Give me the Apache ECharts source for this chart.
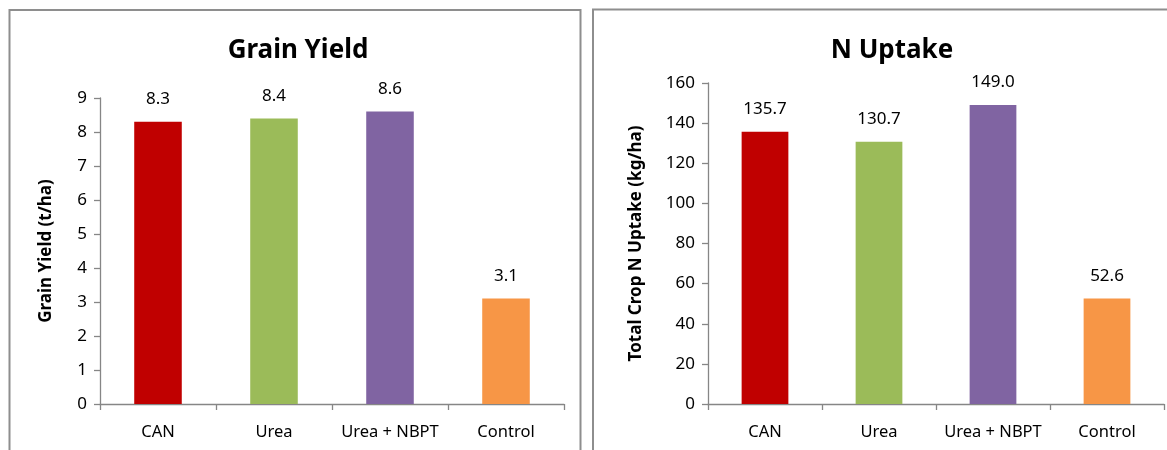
<!DOCTYPE html>
<html>
<head>
<meta charset="utf-8">
<script src="https://cdn.jsdelivr.net/npm/echarts@6/dist/echarts.min.js"></script>
<style>
  html, body { margin: 0; padding: 0; background: #ffffff; }
  #chart { width: 1167px; height: 450px; }
</style>
</head>
<body>
<div id="chart"></div>
<script>
// Treatments and measured results
const categories = ['CAN', 'Urea', 'Urea + NBPT', 'Control'];
const grainYield = [8.3, 8.4, 8.6, 3.1];        // t/ha
const nUptake = [135.7, 130.7, 149.0, 52.6];    // kg/ha
const barColors = ['#C00000', '#9BBB59', '#8064A2', '#F79646'];
const yieldTicks = { min: 0, max: 9, interval: 1 };
const uptakeTicks = { min: 0, max: 160, interval: 20 };

const FONT = 'Noto Sans';
const AXIS_GREY = '#868686';

function coloured(values) {
  return values.map((v, i) => ({ value: v, itemStyle: { color: barColors[i] } }));
}

function xAxisFor(gridIndex) {
  return {
    type: 'category', gridIndex, data: categories,
    axisLine: { lineStyle: { color: AXIS_GREY, width: 1.3 } },
    axisTick: { show: true, length: 6, lineStyle: { color: AXIS_GREY, width: 1.3 } },
    axisLabel: { color: '#000', fontFamily: FONT, fontSize: 16.5, margin: 20, interval: 0 }
  };
}

function yAxisFor(gridIndex, ticks, name, nameGap) {
  return {
    type: 'value', gridIndex, min: ticks.min, max: ticks.max, interval: ticks.interval,
    name, nameLocation: 'middle', nameRotate: 90, nameGap,
    nameTextStyle: { color: '#000', fontFamily: FONT, fontSize: 17, fontWeight: 'bold' },
    splitLine: { show: false },
    axisLine: { show: true, lineStyle: { color: AXIS_GREY, width: 1.3 } },
    axisTick: { show: true, length: 6, lineStyle: { color: AXIS_GREY, width: 1.3 } },
    axisLabel: { color: '#000', fontFamily: FONT, fontSize: 17, margin: 13 }
  };
}

function barSeries(idx, values) {
  return {
    type: 'bar', xAxisIndex: idx, yAxisIndex: idx, data: coloured(values),
    barWidth: '41%',
    label: {
      show: true, position: 'top', distance: 14, color: '#000',
      fontFamily: FONT, fontSize: 17,
      formatter: p => p.value.toFixed(1)
    }
  };
}

const chart = echarts.init(document.getElementById('chart'), null, { renderer: 'canvas' });
chart.setOption({
  backgroundColor: '#ffffff',
  animation: false,
  title: [
    { text: 'Grain Yield', left: 293, top: 33, textAlign: 'center',
      textStyle: { fontFamily: FONT, fontSize: 26, fontWeight: 'bold', color: '#000' } },
    { text: 'N Uptake', left: 887, top: 33, textAlign: 'center',
      textStyle: { fontFamily: FONT, fontSize: 26, fontWeight: 'bold', color: '#000' } }
  ],
  graphic: [
    { type: 'rect', shape: { x: 9.5, y: 10, width: 571, height: 460 },
      style: { fill: null, stroke: '#8e8e8e', lineWidth: 2 }, silent: true },
    { type: 'rect', shape: { x: 593, y: 9.5, width: 620, height: 460 },
      style: { fill: null, stroke: '#8e8e8e', lineWidth: 2 }, silent: true }
  ],
  grid: [
    { left: 100, top: 98, width: 464, height: 306 },
    { left: 708, top: 83, width: 456, height: 321 }
  ],
  xAxis: [xAxisFor(0), xAxisFor(1)],
  yAxis: [
    yAxisFor(0, yieldTicks, 'Grain Yield (t/ha)', 45),
    yAxisFor(1, uptakeTicks, 'Total Crop N Uptake (kg/ha)', 63)
  ],
  series: [barSeries(0, grainYield), barSeries(1, nUptake)]
});
</script>
</body>
</html>
